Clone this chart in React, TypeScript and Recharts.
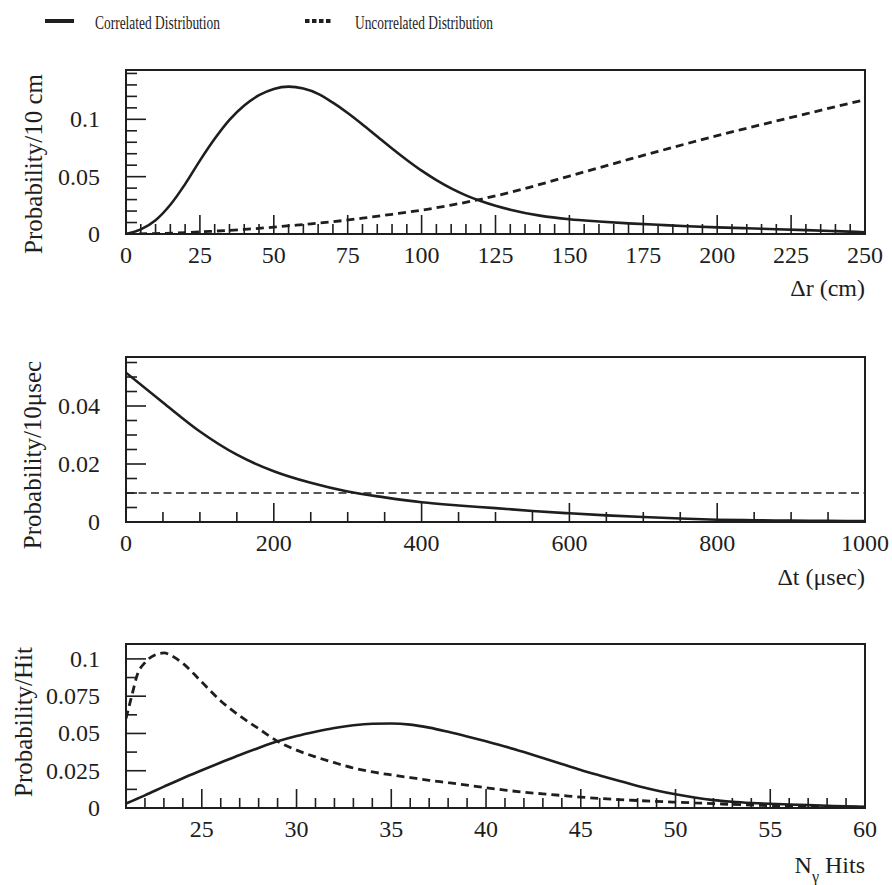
import { Label, Legend, Line, LineChart, ReferenceArea, XAxis, YAxis } from 'recharts';

const FONT = "'Liberation Serif', 'Times New Roman', serif";
const INK = '#1e1e1e';

// panel 1: distance between hits
const drCorrX = [0, 5, 10, 15, 20, 25, 30, 35, 40, 45, 50, 55, 60, 65, 70, 75, 80, 85, 90, 95, 100, 105, 110, 115, 120, 125, 130, 140, 150, 160, 170, 180, 190, 200, 210, 220, 230, 240, 250];
const drCorrY = [0, 0.004, 0.012, 0.0255, 0.0435, 0.064, 0.083, 0.0995, 0.112, 0.121, 0.1265, 0.1285, 0.1268, 0.1222, 0.1145, 0.1055, 0.0955, 0.085, 0.0745, 0.0645, 0.0552, 0.047, 0.0398, 0.0337, 0.0287, 0.0246, 0.0212, 0.016, 0.0128, 0.0109, 0.0093, 0.008, 0.0068, 0.0058, 0.005, 0.0042, 0.0034, 0.0025, 0.0015];
const drUncX = [0, 10, 20, 30, 40, 50, 60, 70, 80, 90, 100, 110, 120, 130, 140, 150, 160, 170, 180, 190, 200, 210, 220, 230, 240, 250];
const drUncY = [0, 0.0004, 0.0012, 0.0025, 0.004, 0.006, 0.0083, 0.0107, 0.0138, 0.0172, 0.0208, 0.0252, 0.0303, 0.0363, 0.0432, 0.0505, 0.0577, 0.065, 0.072, 0.079, 0.0858, 0.0922, 0.0985, 0.1047, 0.111, 0.117];
const drXMajor = [0, 25, 50, 75, 100, 125, 150, 175, 200, 225, 250];
const drXLabels = ['0', '25', '50', '75', '100', '125', '150', '175', '200', '225', '250'];
const drYMajor = [0, 0.05, 0.1];
const drYLabels = ['0', '0.05', '0.1'];

// panel 2: time between hits
const dtCorrX = [0, 50, 100, 150, 200, 250, 300, 350, 400, 450, 500, 550, 600, 650, 700, 750, 800, 850, 900, 950, 1000];
const dtCorrY = [0.0515, 0.0412, 0.0312, 0.0232, 0.0175, 0.0135, 0.0105, 0.0085, 0.0068, 0.0057, 0.0048, 0.0038, 0.003, 0.0023, 0.0017, 0.0012, 0.0008, 0.0006, 0.0005, 0.0004, 0.0003];
const dtUncX = [0, 1000];
const dtUncY = [0.01, 0.01];
const dtXMajor = [0, 200, 400, 600, 800, 1000];
const dtXLabels = ['0', '200', '400', '600', '800', '1000'];
const dtYMajor = [0, 0.02, 0.04];
const dtYLabels = ['0', '0.02', '0.04'];

// panel 3: number of hits
const nCorrX = [21, 22, 23, 24, 25, 26, 27, 28, 29, 30, 31, 32, 33, 34, 35, 36, 37, 38, 39, 40, 41, 42, 43, 44, 45, 46, 47, 48, 49, 50, 51, 52, 53, 54, 55, 56, 57, 58, 59, 60];
const nCorrY = [0.003, 0.0085, 0.0143, 0.02, 0.0253, 0.0305, 0.0356, 0.0403, 0.0447, 0.0483, 0.0512, 0.0537, 0.0555, 0.0565, 0.0567, 0.0559, 0.0539, 0.0511, 0.048, 0.0447, 0.0413, 0.0375, 0.0335, 0.0295, 0.0255, 0.0218, 0.0182, 0.0148, 0.0118, 0.0092, 0.007, 0.0053, 0.0042, 0.0034, 0.0028, 0.0023, 0.0019, 0.0015, 0.0011, 0.0008];
const nUncX = [21, 21.3, 21.6, 22, 22.5, 23, 23.5, 24, 25, 26, 27, 28, 29, 30, 31, 32, 33, 34, 35, 36, 37, 38, 39, 40, 41, 42, 43, 44, 45, 46, 47, 48, 49, 50, 51, 52, 53, 54, 55, 56, 57, 58, 59, 60];
const nUncY = [0.06, 0.075, 0.0895, 0.0975, 0.1025, 0.104, 0.1015, 0.097, 0.0845, 0.0718, 0.0618, 0.0532, 0.0447, 0.0388, 0.0343, 0.0304, 0.0268, 0.0242, 0.0222, 0.0204, 0.0186, 0.017, 0.0153, 0.0136, 0.012, 0.0106, 0.0095, 0.0084, 0.0073, 0.0064, 0.0056, 0.005, 0.0044, 0.0039, 0.0034, 0.0029, 0.0024, 0.002, 0.0016, 0.0013, 0.001, 0.0008, 0.0006, 0.0005];
const nXMajor = [25, 30, 35, 40, 45, 50, 55, 60];
const nXLabels = ['25', '30', '35', '40', '45', '50', '55', '60'];
const nYMajor = [0, 0.025, 0.05, 0.075, 0.1];
const nYLabels = ['0', '0.025', '0.05', '0.075', '0.1'];

const zip = (xs: number[], ys: number[]) => xs.map((x, i) => ({ x, y: ys[i] }));

// minor tick positions between start and end
const steps = (start: number, end: number, step: number) => {
  const out: number[] = [];
  const n = Math.round((end - start) / step);
  for (let i = 0; i <= n; i++) out.push(+(start + i * step).toFixed(6));
  return out;
};

const findMajor = (v: number, majors: number[]) => majors.findIndex((m) => Math.abs(m - v) < 1e-7);

const textStyle = (size: number) => ({ fontFamily: FONT, fontSize: size, fill: INK });

const makeXTick = (majors: number[], labels: string[]) => (props: any) => {
  const { x, y, payload } = props;
  const i = findMajor(payload.value, majors);
  return (
    <g>
      <line x1={x} x2={x} y1={y} y2={y - (i >= 0 ? 19 : 10)} stroke={INK} strokeWidth={1.6} />
      {i >= 0 && (
        <text x={x} y={y + 29} textAnchor="middle" style={textStyle(24)}>
          {labels[i]}
        </text>
      )}
    </g>
  );
};

const makeYTick = (majors: number[], labels: string[]) => (props: any) => {
  const { x, y, payload } = props;
  const i = findMajor(payload.value, majors);
  return (
    <g>
      <line x1={x} x2={x + (i >= 0 ? 20 : 11)} y1={y} y2={y} stroke={INK} strokeWidth={1.6} />
      {i >= 0 && (
        <text x={x - 26} y={y + 8} textAnchor="end" style={textStyle(24)}>
          {labels[i]}
        </text>
      )}
    </g>
  );
};

const yTitle = (text: string, cx: number, cy: number) => () => (
  <text
    x={cx}
    y={cy}
    transform={`rotate(-90 ${cx} ${cy})`}
    textAnchor="middle"
    dominantBaseline="central"
    style={textStyle(25)}
  >
    {text}
  </text>
);

const xTitle = (content: any, dy: number) => (props: any) => {
  const vb = props.viewBox || {};
  return (
    <text x={vb.x + vb.width} y={vb.y + dy} textAnchor="end" style={textStyle(24)}>
      {content}
    </text>
  );
};

const renderLegend = () => (
  <svg width={892} height={40}>
    <line x1={45} x2={74} y1={21} y2={21} stroke={INK} strokeWidth={4} />
    <text x={95} y={29} style={textStyle(19)} textLength={125} lengthAdjust="spacingAndGlyphs">
      Correlated Distribution
    </text>
    <line x1={305} x2={333} y1={21} y2={21} stroke={INK} strokeWidth={4} strokeDasharray="4.5 2.5" />
    <text x={355} y={29} style={textStyle(19)} textLength={138} lengthAdjust="spacingAndGlyphs">
      Uncorrelated Distribution
    </text>
  </svg>
);

interface PanelProps {
  top: number;
  height: number;
  plotTop: number;
  plotBottom: number;
  xDomain: [number, number];
  yDomain: [number, number];
  xTicks: number[];
  yTicks: number[];
  xMajor: number[];
  xLabels: string[];
  yMajor: number[];
  yLabels: string[];
  corr: { x: number; y: number }[];
  unc: { x: number; y: number }[];
  uncWidth: number;
  uncDash: string;
  yTitleText: string;
  yTitlePos: [number, number];
  xTitleContent: any;
  xTitleDy: number;
  legend?: boolean;
}

function Panel(p: PanelProps) {
  return (
    <div style={{ position: 'absolute', left: 0, top: p.top, fontFamily: FONT }}>
      <LineChart
        width={892}
        height={p.height}
        margin={{ top: p.plotTop, right: 27, bottom: p.height - p.plotBottom - 1, left: 125 }}
        style={{ fontFamily: FONT }}
      >
        {p.legend && (
          <Legend
            content={renderLegend}
            layout="horizontal"
            verticalAlign="middle"
            align="center"
            wrapperStyle={{ top: 0, left: 0, width: 892, height: 40 }}
          />
        )}
        <XAxis
          type="number"
          dataKey="x"
          domain={p.xDomain}
          allowDataOverflow
          ticks={p.xTicks}
          interval={0}
          height={1}
          tickSize={0}
          tickMargin={0}
          axisLine={false}
          tickLine={false}
          tick={makeXTick(p.xMajor, p.xLabels)}
        >
          <Label content={xTitle(p.xTitleContent, p.xTitleDy)} />
        </XAxis>
        <YAxis
          type="number"
          domain={p.yDomain}
          allowDataOverflow
          ticks={p.yTicks}
          interval={0}
          width={1}
          tickSize={0}
          tickMargin={0}
          axisLine={false}
          tickLine={false}
          tick={makeYTick(p.yMajor, p.yLabels)}
        >
          <Label content={yTitle(p.yTitleText, p.yTitlePos[0], p.yTitlePos[1])} />
        </YAxis>
        <ReferenceArea
          x1={p.xDomain[0]}
          x2={p.xDomain[1]}
          y1={p.yDomain[0]}
          y2={p.yDomain[1]}
          fill="none"
          stroke={INK}
          strokeWidth={2}
          ifOverflow="visible"
        />
        <Line
          data={p.unc}
          dataKey="y"
          type="monotone"
          stroke={INK}
          strokeWidth={p.uncWidth}
          strokeDasharray={p.uncDash}
          dot={false}
          isAnimationActive={false}
        />
        <Line
          data={p.corr}
          dataKey="y"
          type="monotone"
          stroke={INK}
          strokeWidth={2.6}
          dot={false}
          isAnimationActive={false}
        />
      </LineChart>
    </div>
  );
}

export default function App() {
  return (
    <div style={{ position: 'absolute', left: 0, top: 0, width: 892, height: 885, background: '#fff' }}>
      <Panel
        legend
        top={0}
        height={320}
        plotTop={70}
        plotBottom={234}
        xDomain={[0, 250]}
        yDomain={[0, 0.143]}
        xTicks={steps(0, 250, 5)}
        yTicks={steps(0, 0.14, 0.01)}
        xMajor={drXMajor}
        xLabels={drXLabels}
        yMajor={drYMajor}
        yLabels={drYLabels}
        corr={zip(drCorrX, drCorrY)}
        unc={zip(drUncX, drUncY)}
        uncWidth={2.8}
        uncDash="8 5"
        yTitleText="Probability/10 cm"
        yTitlePos={[33, 164]}
        xTitleContent="Δr (cm)"
        xTitleDy={62}
      />
      <Panel
        top={320}
        height={300}
        plotTop={37}
        plotBottom={202}
        xDomain={[0, 1000]}
        yDomain={[0, 0.0569]}
        xTicks={steps(0, 1000, 50)}
        yTicks={steps(0, 0.055, 0.005)}
        xMajor={dtXMajor}
        xLabels={dtXLabels}
        yMajor={dtYMajor}
        yLabels={dtYLabels}
        corr={zip(dtCorrX, dtCorrY)}
        unc={zip(dtUncX, dtUncY)}
        uncWidth={1.6}
        uncDash="8 4.5"
        yTitleText="Probability/10μsec"
        yTitlePos={[32, 135]}
        xTitleContent="Δt (μsec)"
        xTitleDy={63}
      />
      <Panel
        top={620}
        height={265}
        plotTop={24}
        plotBottom={188}
        xDomain={[21, 60]}
        yDomain={[0, 0.11]}
        xTicks={steps(21, 60, 1)}
        yTicks={steps(0, 0.1, 0.0125)}
        xMajor={nXMajor}
        xLabels={nXLabels}
        yMajor={nYMajor}
        yLabels={nYLabels}
        corr={zip(nCorrX, nCorrY)}
        unc={zip(nUncX, nUncY)}
        uncWidth={2.8}
        uncDash="8 5"
        yTitleText="Probability/Hit"
        yTitlePos={[23, 102]}
        xTitleContent={
          <>
            N<tspan dy={9} fontSize={16}>γ</tspan>
            <tspan dy={-9}> Hits</tspan>
          </>
        }
        xTitleDy={65}
      />
    </div>
  );
}
